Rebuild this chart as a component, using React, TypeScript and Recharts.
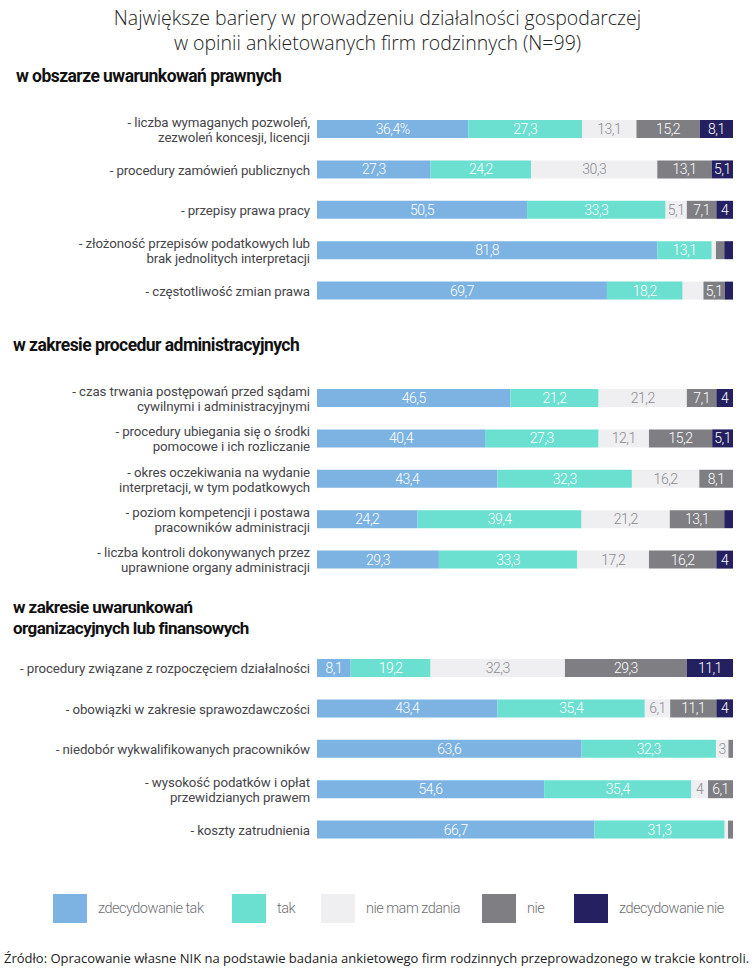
import { Bar, BarChart, LabelList, XAxis, YAxis } from "recharts";

// categories per section
const legalCategories = [
  "- liczba wymaganych pozwoleń,\nzezwoleń koncesji, licencji",
  "- procedury zamówień publicznych",
  "- przepisy prawa pracy",
  "- złożoność przepisów podatkowych lub\nbrak jednolitych interpretacji",
  "- częstotliwość zmian prawa",
];
const adminCategories = [
  "- czas trwania postępowań przed sądami\ncywilnymi i administracyjnymi",
  "- procedury ubiegania się o środki\npomocowe i ich rozliczanie",
  "- okres oczekiwania na wydanie\ninterpretacji, w tym podatkowych",
  "- poziom kompetencji i postawa\npracowników administracji",
  "- liczba kontroli dokonywanych przez\nuprawnione organy administracji",
];
const orgCategories = [
  "- procedury związane z rozpoczęciem działalności",
  "- obowiązki w zakresie sprawozdawczości",
  "- niedobór wykwalifikowanych pracowników",
  "- wysokość podatków i opłat\nprzewidzianych prawem",
  "- koszty zatrudnienia",
];

// series values, 15 rows in order (legal, admin, org)
const strongYes = [36.4, 27.3, 50.5, 81.8, 69.7, 46.5, 40.4, 43.4, 24.2, 29.3, 8.1, 43.4, 63.6, 54.6, 66.7];
const yes = [27.3, 24.2, 33.3, 13.1, 18.2, 21.2, 27.3, 32.3, 39.4, 33.3, 19.2, 35.4, 32.3, 35.4, 31.3];
const neutral = [13.1, 30.3, 5.1, 1.0, 5.0, 21.2, 12.1, 16.2, 21.2, 17.2, 32.3, 6.1, 3, 4, 0.8];
const no = [15.2, 13.1, 7.1, 2.0, 5.1, 7.1, 15.2, 8.1, 13.1, 16.2, 29.3, 11.1, 1.1, 6.1, 1.2];
const strongNo = [8.1, 5.1, 4, 2.1, 2.0, 4, 5.1, 0, 2.1, 4, 11.1, 4, 0, 0, 0];

// segments drawn without a value label in the original
const unlabeled: Record<number, string[]> = {
  3: ["neutral", "no", "strongNo"],
  4: ["neutral", "strongNo"],
  8: ["strongNo"],
  12: ["no"],
  14: ["neutral", "no"],
};

const seriesNames = ["zdecydowanie tak", "tak", "nie mam zdania", "nie", "zdecydowanie nie"];

const SERIES = [
  { key: "strongYes", color: "#7cb3e2", text: "#ffffff" },
  { key: "yes", color: "#6be0d0", text: "#ffffff" },
  { key: "neutral", color: "#efeff1", text: "#8a8a8f" },
  { key: "no", color: "#7e7e83", text: "#ffffff" },
  { key: "strongNo", color: "#25205f", text: "#ffffff" },
];

function buildRows(categories: string[], offset: number) {
  return categories.map((name, i) => ({
    name,
    row: offset + i,
    strongYes: strongYes[offset + i],
    yes: yes[offset + i],
    neutral: neutral[offset + i],
    no: no[offset + i],
    strongNo: strongNo[offset + i],
  }));
}

const fmt = (v: number) => (Number.isInteger(v) ? String(v) : v.toFixed(1).replace(".", ","));

function labelFor(d: any, key: string) {
  const v = d[key];
  if (!v) return "";
  if ((unlabeled[d.row] || []).includes(key)) return "";
  return d.row === 0 && key === "strongYes" ? fmt(v) + "%" : fmt(v);
}

const CategoryTick = ({ y, payload }: any) => {
  const lines = String(payload.value).split("\n");
  const lh = 15;
  const y0 = y - ((lines.length - 1) * lh) / 2;
  return (
    <text
      textAnchor="end"
      fill="#45454a"
      fontSize={13.3}
      fontFamily="Roboto"
      letterSpacing={-0.1}
      dominantBaseline="central"
    >
      {lines.map((l, i) => (
        <tspan key={i} x={310} y={y0 + i * lh}>
          {l}
        </tspan>
      ))}
    </text>
  );
};

const SegmentLabel = (color: string) => (p: any) => {
  if (!p.value) return null;
  return (
    <text
      x={p.x + p.width / 2}
      y={p.y + p.height / 2}
      textAnchor="middle"
      dominantBaseline="central"
      fill={color}
      fontSize={14}
      fontFamily="Roboto"
      fontWeight={300}
      letterSpacing={-0.5}
    >
      {p.value}
    </text>
  );
};

function Section({ rows, top }: { rows: ReturnType<typeof buildRows>; top: number }) {
  return (
    <div style={{ position: "absolute", left: 0, top }}>
      <BarChart
        width={755}
        height={212}
        data={rows}
        layout="vertical"
        margin={{ top: 5, right: 22, bottom: 5, left: 0 }}
        barCategoryGap={11}
      >
        <XAxis type="number" domain={[0, 100]} allowDataOverflow hide />
        <YAxis
          type="category"
          dataKey="name"
          width={317}
          axisLine={false}
          tickLine={false}
          tick={<CategoryTick />}
          interval={0}
        />
        {SERIES.map((s) => (
          <Bar key={s.key} dataKey={s.key} stackId="a" fill={s.color} isAnimationActive={false}>
            <LabelList dataKey={(d: any) => labelFor(d, s.key)} content={SegmentLabel(s.text)} />
          </Bar>
        ))}
      </BarChart>
    </div>
  );
}

const headingStyle: React.CSSProperties = {
  position: "absolute",
  left: 16,
  fontFamily: "Roboto",
  fontWeight: 700,
  fontSize: 17.5,
  letterSpacing: -0.55,
  lineHeight: "18px",
  color: "#111",
  whiteSpace: "nowrap",
};

const legendLefts = [53, 232, 321, 482, 574];

export default function App() {
  return (
    <div style={{ position: "absolute", left: 0, top: 0, width: 755, height: 971, background: "#fff" }}>
      <div
        style={{
          position: "absolute",
          top: 5,
          left: 0,
          width: 755,
          textAlign: "center",
          fontFamily: "Open Sans",
          fontWeight: 300,
          fontSize: 19.5,
          lineHeight: "25px",
          color: "#222",
        }}
      >
        Największe bariery w prowadzeniu działalności gospodarczej
        <br />w opinii ankietowanych firm rodzinnych (N=99)
      </div>

      <div style={{ ...headingStyle, top: 67 }}>w obszarze uwarunkowań prawnych</div>
      <Section rows={buildRows(legalCategories, 0)} top={104} />

      <div style={{ ...headingStyle, top: 336, left: 13 }}>w zakresie procedur administracyjnych</div>
      <Section rows={buildRows(adminCategories, 5)} top={373} />

      <div style={{ ...headingStyle, top: 598, left: 13, fontSize: 17 }}>w zakresie uwarunkowań</div>
      <div style={{ ...headingStyle, top: 619, left: 13, fontSize: 17 }}>organizacyjnych lub finansowych</div>
      <Section rows={buildRows(orgCategories, 10)} top={643} />

      {SERIES.map((s, i) => (
        <div key={s.key} style={{ position: "absolute", top: 894, left: legendLefts[i], display: "flex", alignItems: "center" }}>
          <div style={{ width: 34, height: 29, background: s.color }} />
          <span
            style={{
              marginLeft: 11,
              fontFamily: "Roboto",
              fontWeight: 300,
              fontSize: 14.5,
              letterSpacing: -0.5,
              color: "#6f6f74",
            }}
          >
            {seriesNames[i]}
          </span>
        </div>
      ))}

      <div
        style={{
          position: "absolute",
          top: 950,
          left: 4,
          fontFamily: "Open Sans",
          fontSize: 13,
          lineHeight: "16px",
          color: "#222",
          whiteSpace: "nowrap",
        }}
      >
        Źródło: Opracowanie własne NIK na podstawie badania ankietowego firm rodzinnych przeprowadzonego w trakcie kontroli.
      </div>
    </div>
  );
}
